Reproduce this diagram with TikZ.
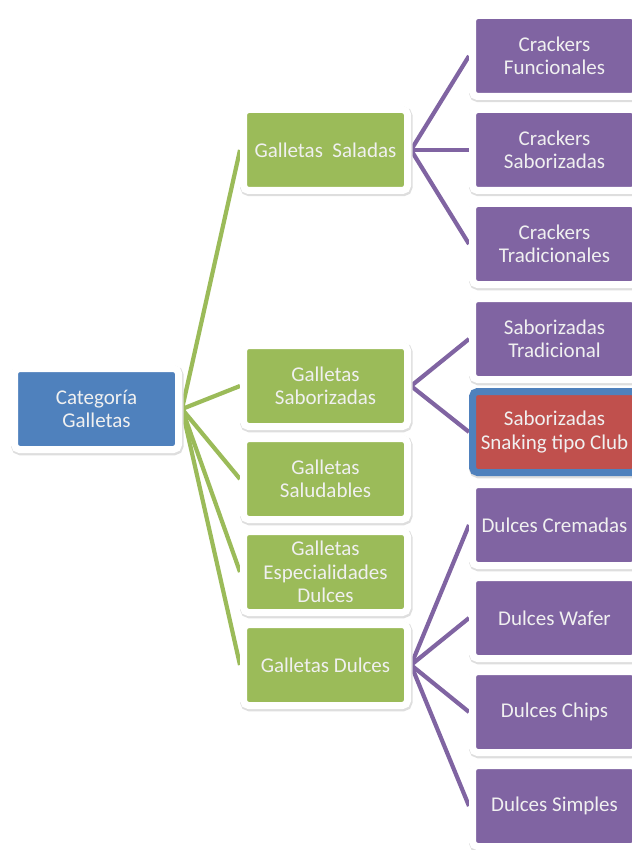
\documentclass[tikz,border=0pt]{standalone}
\usepackage{fontspec}
\setmainfont{Carlito}
\usetikzlibrary{backgrounds}

\definecolor{bleu}{HTML}{4F81BD}
\definecolor{vert}{HTML}{9BBB59}
\definecolor{violet}{HTML}{8064A2}
\definecolor{rouge}{HTML}{C0504D}

\tikzset{
    boite/.style={rounded corners=5pt, draw=white, line width=7pt,
        minimum width=164pt, minimum height=81pt, inner sep=0pt,
        text=white!94!black, align=center, font=\fontsize{21}{23.5}\selectfont,
        preaction={draw=black!13, line width=8.5pt,
            transform canvas={shift={(0.8pt,-1.5pt)}}}},
    racine/.style={boite, fill=bleu},
    famille/.style={boite, fill=vert},
    produit/.style={boite, fill=violet},
    choisi/.style={boite, fill=rouge, draw=bleu},
    lienvert/.style={vert, line width=4.2pt},
    lienviolet/.style={violet, line width=4.2pt}
}

\begin{document}
\begin{tikzpicture}[x=1pt, y=1pt]
        \useasboundingbox (0,0) rectangle (631,-850);

        % Racine
        \node[racine] (cat) at (96.5,-409) {Categoría\\Galletas};

        % Familles
        \node[famille] (saladas) at (325.5,-150) {Galletas\ \ Saladas};
        \node[famille] (saborizadas) at (325.5,-386) {Galletas\\Saborizadas};
        \node[famille] (saludables) at (325.5,-479) {Galletas\\Saludables};
        \node[famille] (especialidades) at (325.5,-572) {Galletas\\Especialidades\\Dulces};
        \node[famille] (dulces) at (325.5,-665) {Galletas Dulces};

        % Produits
        \node[produit] (funcionales) at (554.5,-56) {Crackers\\Funcionales};
        \node[produit] (crsabor) at (554.5,-150) {Crackers\\Saborizadas};
        \node[produit] (crtrad) at (554.5,-244) {Crackers\\Tradicionales};
        \node[produit] (sabtrad) at (554.5,-339) {Saborizadas\\Tradicional};
        \node[choisi] (snaking) at (554.5,-432) {Saborizadas\\Snaking tipo Club};
        \node[produit] (cremadas) at (554.5,-525) {Dulces Cremadas};
        \node[produit] (wafer) at (554.5,-618) {Dulces Wafer};
        \node[produit] (chips) at (554.5,-712) {Dulces Chips};
        \node[produit] (simples) at (554.5,-806) {Dulces Simples};

        % Liens
        \begin{scope}[on background layer]
            \foreach \f in {saladas,saborizadas,saludables,especialidades,dulces}
                \draw[lienvert] (cat.east) -- (\f.west);
            \foreach \p in {funcionales,crsabor,crtrad}
                \draw[lienviolet] (saladas.east) -- (\p.west);
            \foreach \p in {sabtrad,snaking}
                \draw[lienviolet] (saborizadas.east) -- (\p.west);
            \foreach \p in {cremadas,wafer,chips,simples}
                \draw[lienviolet] (dulces.east) -- (\p.west);
        \end{scope}
    \end{tikzpicture}
\end{document}
